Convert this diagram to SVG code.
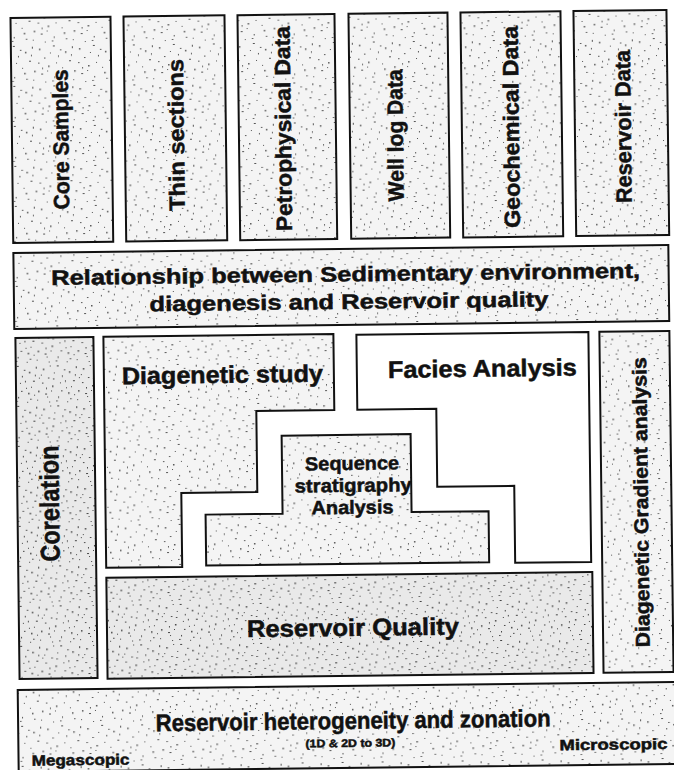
<svg xmlns="http://www.w3.org/2000/svg" width="674" height="770" viewBox="0 0 674 770">
<style>
.bx{stroke:#111;stroke-width:2;}
.t{font-family:"Liberation Sans",Arial,sans-serif;font-weight:bold;fill:#111;stroke:#111;stroke-width:0.5;text-anchor:middle;}
</style>
<defs>
<pattern id="spk" width="40" height="40" patternUnits="userSpaceOnUse">
<rect width="40" height="40" fill="#f4f4f4"/>
<path fill="#555" d="M3 5h1.5v1.5h-1.5zM17 2h2v1h-2zM29 8h1.5v1.5h-1.5zM36 3h1v2h-1zM8 14h1.5v1h-1.5zM22 12h1v1.5h-1zM33 17h2v1h-2zM12 22h1.5v1.5h-1.5zM26 24h1v1h-1zM38 27h1.5v1.5h-1.5zM5 30h2v1h-2zM18 33h1v1.5h-1zM30 35h1.5v1h-1.5zM9 38h1v1h-1zM24 6h1.5v1h-1.5zM14 9h1v1h-1zM35 11h1v1.5h-1zM2 19h1.5v1h-1.5zM20 19h1v1h-1zM28 29h1.5v1.5h-1.5zM11 27h1v1h-1zM37 36h1v1h-1zM16 37h1.5v1h-1.5zM6 24h1v1.5h-1z"/>
</pattern>
<pattern id="spk2" width="40" height="40" patternUnits="userSpaceOnUse">
<rect width="40" height="40" fill="#e9e9e9"/>
<path fill="#444" d="M3 5h1.5v1.5h-1.5zM17 2h2v1h-2zM29 8h1.5v1.5h-1.5zM36 3h1v2h-1zM8 14h1.5v1h-1.5zM22 12h1v1.5h-1zM33 17h2v1h-2zM12 22h1.5v1.5h-1.5zM26 24h1v1h-1zM38 27h1.5v1.5h-1.5zM5 30h2v1h-2zM18 33h1v1.5h-1zM30 35h1.5v1h-1.5zM9 38h1v1h-1zM24 6h1.5v1h-1.5zM14 9h1v1h-1zM35 11h1v1.5h-1zM2 19h1.5v1h-1.5zM20 19h1v1h-1zM28 29h1.5v1.5h-1.5zM11 27h1v1h-1zM37 36h1v1h-1zM16 37h1.5v1h-1.5zM6 24h1v1.5h-1zM1 11h1v1h-1zM13 15h1.5v1h-1.5zM25 17h1v1.5h-1zM31 23h1v1h-1zM7 33h1v1h-1zM21 27h1.5v1h-1.5zM34 31h1v1h-1zM27 38h1v1h-1zM10 2h1v1h-1zM39 14h1v1h-1z"/>
</pattern>
</defs>
<rect width="674" height="770" fill="#ffffff"/>
<g transform="rotate(-0.7 337 385)">
<g id="core-samples"><rect class="bx" x="15" y="14" width="100" height="225" fill="url(#spk)"/><text class="t" font-size="22" textLength="140" lengthAdjust="spacingAndGlyphs" transform="translate(71.5 136) rotate(-90)">Core Samples</text></g>
<g id="thin-sections"><rect class="bx" x="128" y="14" width="101" height="225" fill="url(#spk)"/><text class="t" font-size="22" textLength="152" lengthAdjust="spacingAndGlyphs" transform="translate(187 133) rotate(-90)">Thin sections</text></g>
<g id="petrophysical-data"><rect class="bx" x="242" y="14" width="97" height="225" fill="url(#spk)"/><text class="t" font-size="22" textLength="205" lengthAdjust="spacingAndGlyphs" transform="translate(294 128) rotate(-90)">Petrophysical Data</text></g>
<g id="well-log-data"><rect class="bx" x="353" y="14" width="99" height="225" fill="url(#spk)"/><text class="t" font-size="22" textLength="132" lengthAdjust="spacingAndGlyphs" transform="translate(406 136) rotate(-90)">Well log Data</text></g>
<g id="geochemical-data"><rect class="bx" x="465" y="14" width="100" height="225" fill="url(#spk)"/><text class="t" font-size="22" textLength="202" lengthAdjust="spacingAndGlyphs" transform="translate(522 129) rotate(-90)">Geochemical Data</text></g>
<g id="reservoir-data"><rect class="bx" x="578" y="14" width="93" height="225" fill="url(#spk)"/><text class="t" font-size="22" textLength="153" lengthAdjust="spacingAndGlyphs" transform="translate(634 130) rotate(-90)">Reservoir Data</text></g>
<g id="relationship"><rect class="bx" x="15" y="249" width="655" height="76" fill="url(#spk)"/><text class="t" font-size="21" x="347" y="281.5" textLength="589" lengthAdjust="spacingAndGlyphs">Relationship between Sedimentary environment,</text><text class="t" font-size="21" x="350" y="309" textLength="399" lengthAdjust="spacingAndGlyphs">diagenesis and Reservoir quality</text></g>
<g id="corelation"><rect class="bx" x="16" y="334" width="78" height="341" fill="url(#spk2)"/><text class="t" font-size="27" textLength="116" lengthAdjust="spacingAndGlyphs" transform="translate(57.5 500) rotate(-90)">Corelation</text></g>
<g id="diagenetic-study"><polygon class="bx" points="104,334 334,334 334,410 256,410 256,491 180,491 180,565 104,565" fill="url(#spk)"/><text class="t" font-size="24" x="222.5" y="381.5" textLength="201" lengthAdjust="spacingAndGlyphs">Diagenetic study</text></g>
<g id="facies-analysis"><polygon class="bx" points="357,335 589,335 589,565 513,565 513,488 436,488 436,410 357,410" fill="#ffffff"/><text class="t" font-size="24" x="482.5" y="378.5" textLength="189" lengthAdjust="spacingAndGlyphs">Facies Analysis</text></g>
<g id="sequence-stratigraphy"><polygon class="bx" points="281,435 410,435 410,513 487,513 487,564 204,564 204,513 281,513" fill="url(#spk)"/><text class="t" font-size="19" x="351" y="470" textLength="94" lengthAdjust="spacingAndGlyphs">Sequence</text><text class="t" font-size="19" x="352" y="492" textLength="117" lengthAdjust="spacingAndGlyphs">stratigraphy</text><text class="t" font-size="19" x="351" y="514" textLength="82" lengthAdjust="spacingAndGlyphs">Analysis</text></g>
<g id="diagenetic-gradient"><rect class="bx" x="600" y="335" width="70" height="341" fill="url(#spk)"/><text class="t" font-size="20" textLength="290" lengthAdjust="spacingAndGlyphs" transform="translate(646.5 506) rotate(-90)">Diagenetic Gradient analysis</text></g>
<g id="reservoir-quality"><rect class="bx" x="104" y="575" width="486" height="101" fill="url(#spk2)"/><text class="t" font-size="24" x="350" y="636" textLength="212" lengthAdjust="spacingAndGlyphs">Reservoir Quality</text></g>
<g id="reservoir-heterogeneity"><rect class="bx" x="14" y="686" width="658" height="82" fill="url(#spk)"/><text class="t" font-size="24" x="349" y="729" textLength="395" lengthAdjust="spacingAndGlyphs">Reservoir heterogeneity and zonation</text><text class="t" font-size="15" x="76" y="762" textLength="98" lengthAdjust="spacingAndGlyphs">Megascopic</text><text class="t" font-size="11" x="346" y="747" textLength="90" lengthAdjust="spacingAndGlyphs">(1D &amp; 2D to 3D)</text><text class="t" font-size="15" x="609" y="753" textLength="108" lengthAdjust="spacingAndGlyphs">Microscopic</text></g>
<g id="connectors"></g>
</g>
</svg>
